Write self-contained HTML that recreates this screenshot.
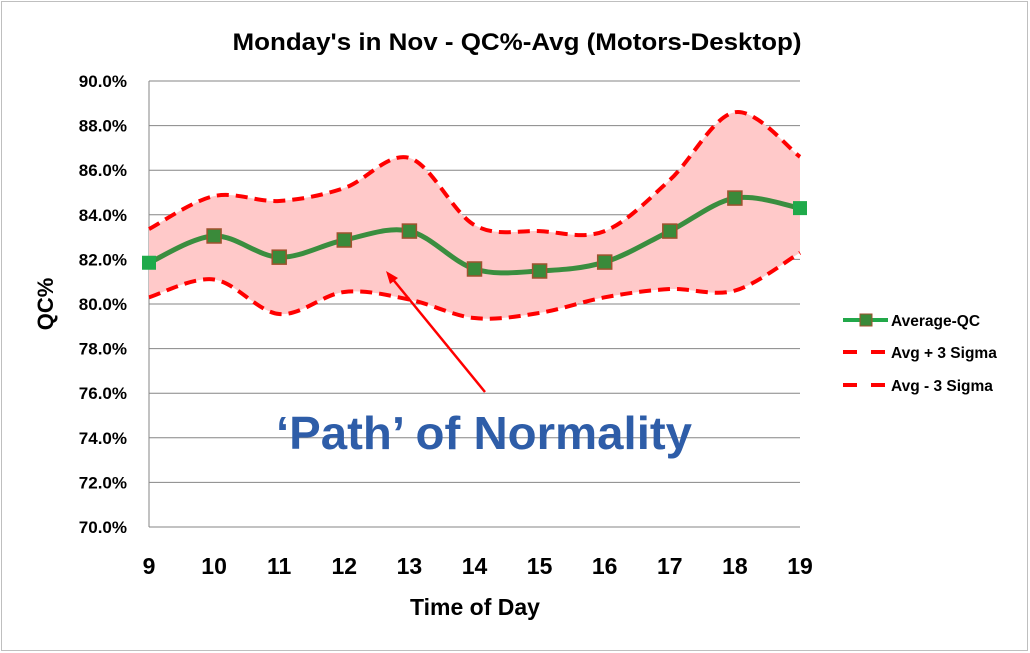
<!DOCTYPE html>
<html><head><meta charset="utf-8"><style>
html,body{margin:0;padding:0;background:#fff;}
svg{display:block;font-family:"Liberation Sans",Arial,sans-serif;}
</style></head><body>
<svg id="chart" width="1030" height="653" viewBox="0 0 1030 653">
<rect x="1.5" y="1.5" width="1026" height="649" fill="#fff" stroke="#bfbfbf"/>
<text x="517" y="50" text-anchor="middle" font-size="24" font-weight="bold" fill="#000" textLength="569" lengthAdjust="spacingAndGlyphs">Monday's in Nov - QC%-Avg (Motors-Desktop)</text>
<g id="grid"></g>
<g id="fill"></g>
<g id="lines"></g>
<g id="yticks"></g>
<g id="xticks"></g>
<text x="475" y="615" text-anchor="middle" font-size="23" font-weight="bold">Time of Day</text>
<text transform="translate(53,304) rotate(-90)" text-anchor="middle" font-size="22" font-weight="bold">QC%</text>
<line x1="485" y1="392" x2="391" y2="277" stroke="#ff0000" stroke-width="2.5"/>
<polygon points="386,271 398,278 390,284" fill="#ff0000"/>
<text x="484" y="449" text-anchor="middle" font-size="46" font-weight="bold" fill="#2E5DA8" textLength="416" lengthAdjust="spacingAndGlyphs">‘Path’ of Normality</text>
<g>
<g>
<line x1="843" y1="320" x2="888" y2="320" stroke="#22A84A" stroke-width="4"/>
<rect x="860" y="314" width="12" height="12" fill="#3A8A3A" stroke="#A0522D" stroke-width="1"/>
<text x="891" y="326" font-size="15.5" font-weight="bold">Average-QC</text></g>
<g>
<line x1="843" y1="352" x2="888" y2="352" stroke="#ff0000" stroke-width="4" stroke-dasharray="14 14"/>
<text x="891" y="358" font-size="15.5" font-weight="bold">Avg + 3 Sigma</text></g>
<g>
<line x1="843" y1="385" x2="888" y2="385" stroke="#ff0000" stroke-width="4" stroke-dasharray="14 14"/>
<text x="891" y="391" font-size="15.5" font-weight="bold">Avg - 3 Sigma</text></g>
</g>
</svg>
<script>
const categories=[9,10,11,12,13,14,15,16,17,18,19];
const avgValues=[81.85,83.05,82.1,82.87,83.27,81.57,81.48,81.88,83.27,84.75,84.3];
const upperValues=[83.36,84.84,84.62,85.2,86.55,83.54,83.27,83.27,85.56,88.6,86.6];
const lowerValues=[80.3,81.1,79.55,80.54,80.2,79.37,79.6,80.3,80.67,80.6,82.3];
const yTicks=[70,72,74,76,78,80,82,84,86,88,90];
const NS="http://www.w3.org/2000/svg";
const X0=149,X1=800,Y0=527,Y1=81;
function xs(i){return X0+(X1-X0)*i/(categories.length-1);}
function ys(v){return Y0-(v-70)/(90-70)*(Y0-Y1);}
function mk(tag,attrs,parent){const e=document.createElementNS(NS,tag);for(const k in attrs)e.setAttribute(k,attrs[k]);parent.appendChild(e);return e;}
function smooth(pts){let d="M"+pts[0][0]+","+pts[0][1];
for(let i=0;i<pts.length-1;i++){const p0=pts[Math.max(0,i-1)],p1=pts[i],p2=pts[i+1],p3=pts[Math.min(pts.length-1,i+2)];
const c1=[p1[0]+(p2[0]-p0[0])/6,p1[1]+(p2[1]-p0[1])/6],c2=[p2[0]-(p3[0]-p1[0])/6,p2[1]-(p3[1]-p1[1])/6];
d+=" C"+c1[0]+","+c1[1]+" "+c2[0]+","+c2[1]+" "+p2[0]+","+p2[1];}return d;}
const grid=document.getElementById('grid'),yt=document.getElementById('yticks'),xt=document.getElementById('xticks');
yTicks.forEach(t=>{const y=ys(t);
const l=mk('line',{x1:X0,x2:X1,y1:y,y2:y,stroke:'#868686','stroke-width':1},grid);


const tx=mk('text',{x:127,y:y+6,'text-anchor':'end','font-size':17,'font-weight':'bold'},yt);tx.textContent=t.toFixed(1)+'%';

});
const ax=mk('line',{x1:X0,x2:X0,y1:Y1,y2:Y0,stroke:'#868686'},grid);


categories.forEach((c,i)=>{const tx=mk('text',{x:xs(i),y:574,'text-anchor':'middle','font-size':23,'font-weight':'bold'},xt);tx.textContent=c;

});
const up=upperValues.map((v,i)=>[xs(i),ys(v)]),lo=lowerValues.map((v,i)=>[xs(i),ys(v)]),av=avgValues.map((v,i)=>[xs(i),ys(v)]);
const loRev=lo.slice().reverse();
const fd=smooth(up)+" L"+loRev[0][0]+","+loRev[0][1]+smooth(loRev).replace(/^M[^ C]+/,'')+" Z";
const band=mk('path',{d:fd,fill:'#FFC9C9',stroke:'none'},document.getElementById('fill'));


const lines=document.getElementById('lines');
const ul=mk('path',{d:smooth(up),fill:'none',stroke:'#ff0000','stroke-width':4,'stroke-dasharray':'12 7'},lines);


const ll=mk('path',{d:smooth(lo),fill:'none',stroke:'#ff0000','stroke-width':4,'stroke-dasharray':'12 7'},lines);


const al=mk('path',{d:smooth(av),fill:'none',stroke:'#3A8E3F','stroke-width':5},lines);


av.forEach((p,i)=>{const edge=(i===0||i===av.length-1);
const r=mk('rect',{x:p[0]-7,y:p[1]-7,width:14,height:14,fill:edge?'#1FAA4A':'#3A8A3A',stroke:'#A0522D','stroke-width':edge?0:1.5},lines);

});
</script>
</body></html>
